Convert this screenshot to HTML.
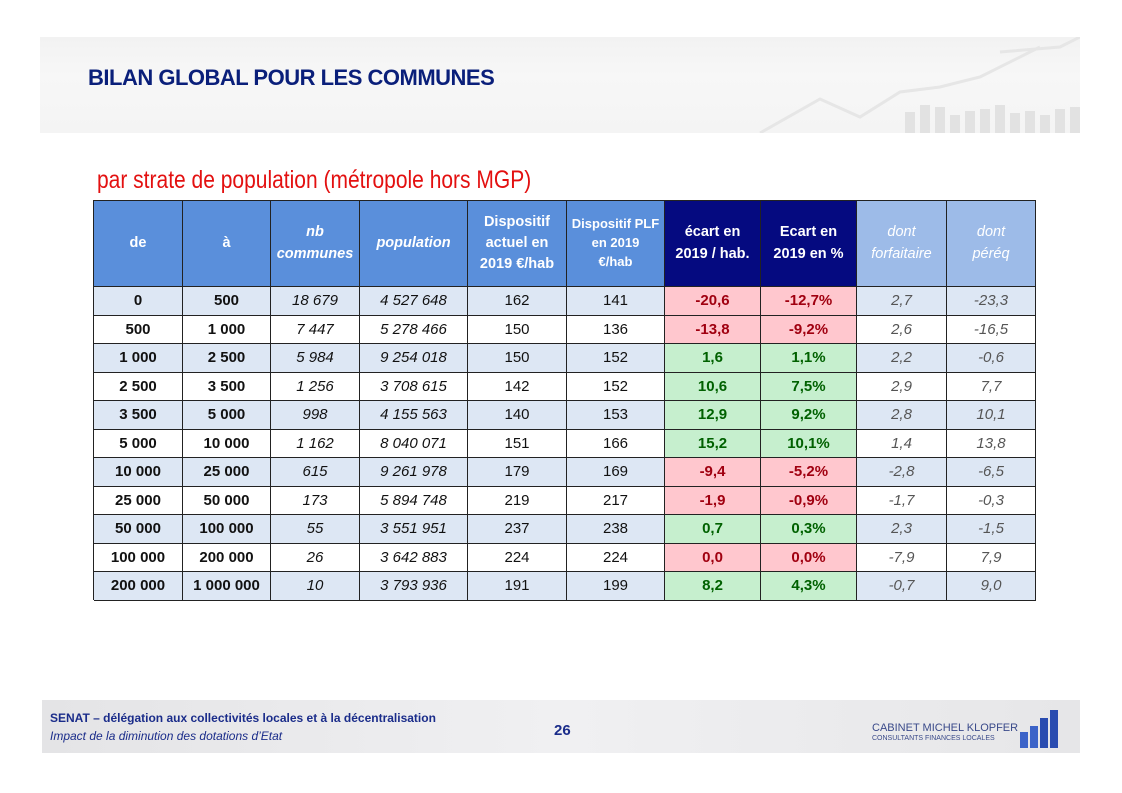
<!DOCTYPE html>
<html><head><meta charset="utf-8">
<style>
body{margin:0;width:1122px;height:793px;background:#fff;position:relative;overflow:hidden;font-family:"Liberation Sans",sans-serif}
#hdr{position:absolute;left:40px;top:37px;width:1040px;height:96px;background:linear-gradient(#f2f2f2,#f7f7f7 40%,#f4f4f4)}
#title{position:absolute;left:88px;top:65px;font-size:22px;font-weight:bold;color:#0a1f7a;letter-spacing:-0.5px}
#sub{position:absolute;left:97px;top:166px;font-size:25px;color:#e31010;white-space:nowrap;transform:scaleX(0.84);transform-origin:left}
#ftr{position:absolute;left:42px;top:700px;width:1038px;height:53px;background:linear-gradient(90deg,#e4e4e6,#f0f0f2 50%,#e6e6e8)}
.f{position:absolute;font-size:12px;color:#1a2c8a}
.c{position:absolute;box-sizing:border-box;display:flex;align-items:center;justify-content:center;text-align:center;font-size:15px;border-right:1.5px solid #222;border-bottom:1.5px solid #222;line-height:1.3;white-space:nowrap}
#tbl{position:absolute;left:93px;top:200px;width:943px;height:400px;border-left:1.5px solid #222;border-top:1.5px solid #222;box-sizing:border-box}
</style></head><body>
<div id="hdr">
<svg width="1040" height="96" style="position:absolute;left:0;top:0">
<polyline points="720,96 780,62 820,80 860,55 900,50 940,40 1000,10" fill="none" stroke="#e6e6e6" stroke-width="3"/>
<polyline points="960,15 1020,10 1040,0" fill="none" stroke="#e6e6e6" stroke-width="3"/>
<g fill="#e2e2e2"><rect x="865" y="75" width="10" height="21"/><rect x="880" y="68" width="10" height="28"/><rect x="895" y="70" width="10" height="26"/><rect x="910" y="78" width="10" height="18"/><rect x="925" y="74" width="10" height="22"/><rect x="940" y="72" width="10" height="24"/><rect x="955" y="68" width="10" height="28"/><rect x="970" y="76" width="10" height="20"/><rect x="985" y="74" width="10" height="22"/><rect x="1000" y="78" width="10" height="18"/><rect x="1015" y="72" width="10" height="24"/><rect x="1030" y="70" width="10" height="26"/></g>
</svg></div>
<div id="title">BILAN GLOBAL POUR LES COMMUNES</div>
<div id="sub">par strate de population (métropole hors MGP)</div>
<div id="tbl"></div>
<div id="ftr">
<div class="f" style="left:8px;top:11px;font-weight:bold">SENAT – délégation aux collectivités locales et à la décentralisation</div>
<div class="f" style="left:8px;top:29px;font-style:italic">Impact de la diminution des dotations d’Etat</div>
<div class="f" style="left:512px;top:22px;font-size:15px;font-weight:bold">26</div>
<div class="f" style="left:830px;top:22px;font-size:11px;color:#3a4a8a">CABINET MICHEL KLOPFER</div>
<div class="f" style="left:830px;top:35px;font-size:7px;color:#3a4a8a">CONSULTANTS FINANCES LOCALES</div>
<svg style="position:absolute;left:978px;top:8px" width="40" height="40">
<rect x="0" y="24" width="8" height="16" fill="#3c63c8"/><rect x="10" y="18" width="8" height="22" fill="#3c63c8"/><rect x="20" y="10" width="8" height="30" fill="#2a4cb0"/><rect x="30" y="2" width="8" height="38" fill="#2a4cb0"/></svg>
</div>
<script>
const headers=["de","à","nb<br>communes","population","Dispositif<br>actuel en<br>2019 €/hab","Dispositif PLF<br>en 2019<br>€/hab","écart en<br>2019 / hab.","Ecart en<br>2019 en %","dont<br>forfaitaire","dont<br>péréq"];
const colDe=["0","500","1 000","2 500","3 500","5 000","10 000","25 000","50 000","100 000","200 000"];
const colA=["500","1 000","2 500","3 500","5 000","10 000","25 000","50 000","100 000","200 000","1 000 000"];
const nbCommunes=["18 679","7 447","5 984","1 256","998","1 162","615","173","55","26","10"];
const population=["4 527 648","5 278 466","9 254 018","3 708 615","4 155 563","8 040 071","9 261 978","5 894 748","3 551 951","3 642 883","3 793 936"];
const actuel=["162","150","150","142","140","151","179","219","237","224","191"];
const plf=["141","136","152","152","153","166","169","217","238","224","199"];
const ecartHab=["-20,6","-13,8","1,6","10,6","12,9","15,2","-9,4","-1,9","0,7","0,0","8,2"];
const ecartPct=["-12,7%","-9,2%","1,1%","7,5%","9,2%","10,1%","-5,2%","-0,9%","0,3%","0,0%","4,3%"];
const forfaitaire=["2,7","2,6","2,2","2,9","2,8","1,4","-2,8","-1,7","2,3","-7,9","-0,7"];
const pereq=["-23,3","-16,5","-0,6","7,7","10,1","13,8","-6,5","-0,3","-1,5","7,9","9,0"];
const positive=[false,false,true,true,true,true,false,false,true,false,true];
const colX=[0,89,177,266,374,473,571,667,763,853,942];
const hdrH=86,rowH=28.5;
const tbl=document.getElementById('tbl');
function cell(x,y,w,h,html,st){const d=document.createElement('div');d.className='c';d.style.left=x+'px';d.style.top=y+'px';d.style.width=w+'px';d.style.height=h+'px';d.innerHTML=html;Object.assign(d.style,st);tbl.appendChild(d);return d;}
headers.forEach((h,i)=>{
 let bg='#5a8fdb',col='#fff',fs='normal';
 if(i==6||i==7)bg='#050a80';
 if(i>=8){bg='#9dbbe8';fs='italic';}
 if(i==2||i==3)fs='italic';
 const d=cell(colX[i],0,colX[i+1]-colX[i],hdrH,h,{background:bg,color:col,fontStyle:fs,fontWeight:(i<8?'bold':'normal'),fontSize:(i==5?'13px':'14.5px'),lineHeight:'1.45'});
 
 
});
const cols=[colDe,colA,nbCommunes,population,actuel,plf,ecartHab,ecartPct,forfaitaire,pereq];
for(let r=0;r<colDe.length;r++){
 const y=hdrH+r*rowH, shade=r%2==0?'#dde7f4':'#fff';
 for(let c=0;c<10;c++){
  let st={background:shade,color:'#111'};
  if(c<2)st.fontWeight='bold';
  if(c==2||c==3)st.fontStyle='italic';
  if(c==6||c==7){st.fontWeight='bold';st.background=positive[r]?'#c6efce':'#ffc7ce';st.color=positive[r]?'#006100':'#a00010';}
  if(c>=8){st.fontStyle='italic';st.color='#555';}
  const d=cell(colX[c],y,colX[c+1]-colX[c],rowH+(r==10?0.5:0),cols[c][r],st);
  
  
 }
}
</script>
</body></html>
